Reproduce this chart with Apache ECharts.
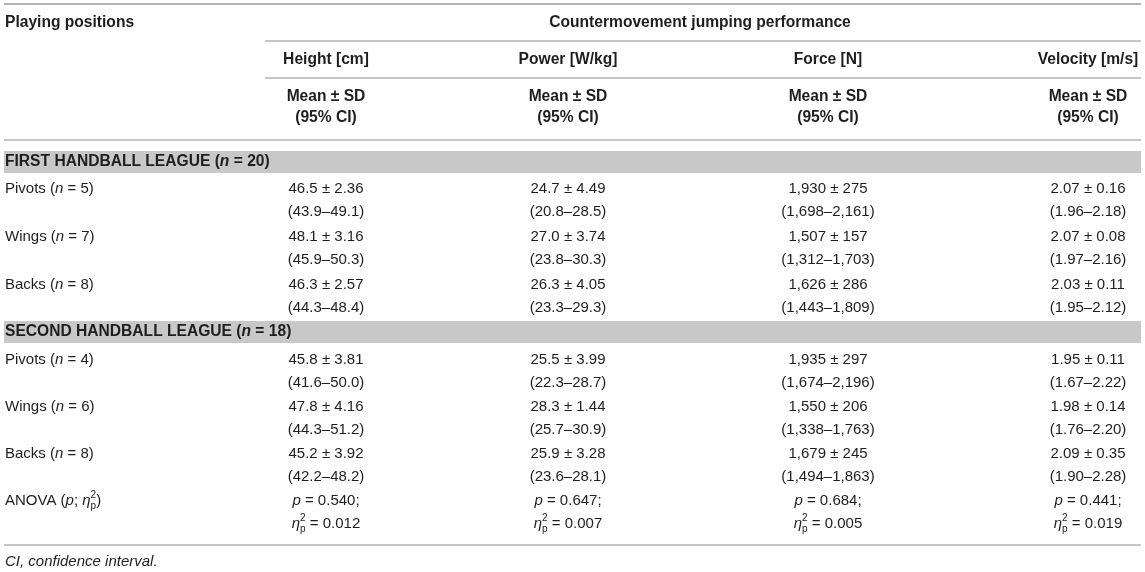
<!DOCTYPE html>
<html>
<head>
<meta charset="utf-8">
<script src="https://cdn.jsdelivr.net/npm/echarts@6/dist/echarts.min.js"></script>
<style>
  html, body { margin: 0; padding: 0; background: #fff; }
  #main { width: 1145px; height: 572px; }
</style>
</head>
<body>
<div id="main"></div>
<script>
var positions = ['Pivots', 'Wings', 'Backs'];
var leagues = ['FIRST HANDBALL LEAGUE', 'SECOND HANDBALL LEAGUE'];
var leagueN = [20, 18];
var groupN = [5, 7, 8, 4, 6, 8];
var measures = ['Height [cm]', 'Power [W/kg]', 'Force [N]', 'Velocity [m/s]'];

var heightMean = [46.5, 48.1, 46.3, 45.8, 47.8, 45.2];
var heightSD = [2.36, 3.16, 2.57, 3.81, 4.16, 3.92];
var heightCI = [[43.9, 49.1], [45.9, 50.3], [44.3, 48.4], [41.6, 50.0], [44.3, 51.2], [42.2, 48.2]];

var powerMean = [24.7, 27.0, 26.3, 25.5, 28.3, 25.9];
var powerSD = [4.49, 3.74, 4.05, 3.99, 1.44, 3.28];
var powerCI = [[20.8, 28.5], [23.8, 30.3], [23.3, 29.3], [22.3, 28.7], [25.7, 30.9], [23.6, 28.1]];

var forceMean = [1930, 1507, 1626, 1935, 1550, 1679];
var forceSD = [275, 157, 286, 297, 206, 245];
var forceCI = [[1698, 2161], [1312, 1703], [1443, 1809], [1674, 2196], [1338, 1763], [1494, 1863]];

var velocityMean = [2.07, 2.07, 2.03, 1.95, 1.98, 2.09];
var velocitySD = [0.16, 0.08, 0.11, 0.11, 0.14, 0.35];
var velocityCI = [[1.96, 2.18], [1.97, 2.16], [1.95, 2.12], [1.67, 2.22], [1.76, 2.20], [1.90, 2.28]];

var anovaP = [0.540, 0.647, 0.684, 0.441];
var anovaEta = [0.012, 0.007, 0.005, 0.019];

// decimals per measure: [mean, sd, ci]
var decimals = [[1, 2, 1], [1, 2, 1], [0, 0, 0], [2, 2, 2]];

// ---- layout ----
var FAMILY = '"Liberation Sans", Arial, Helvetica, sans-serif';
var SIZE = 15;
var BOLD_SIZE = 15.6;
var TEXT = '#1e1e1e';
var RULE = '#b3b3b3';
var BAND = '#c8c8c8';
var W = 1145, H = 572;
var LEFT = 5, TABLE_L = 4, TABLE_R = 1141, SUB_L = 265;
var colX = [326, 568, 828, 1088];
var groupX = 700;
var headY = [23, 60, 97];
var HEAD_SUB = 21;
var bandY = [162, 332];
var BAND_H = 22;
var rowY = [189, 237, 285, 360, 407, 454];
var anovaY = 501;
var DATA_SUB = 23;
var noteY = 562;

var ctx = document.createElement('canvas').getContext('2d');
function fontOf(r, bold) {
  var size = r.size || (bold ? BOLD_SIZE : SIZE);
  return (r.it ? 'italic ' : '') + (bold ? 'bold ' : '') + size + 'px ' + FAMILY;
}
function measure(t, f) { ctx.font = f; return ctx.measureText(t).width; }

function fmt(v, d) {
  var s = v.toFixed(d);
  var parts = s.split('.');
  parts[0] = parts[0].replace(/\B(?=(\d{3})+(?!\d))/g, ',');
  return parts.join('.');
}
function plain(t) { return [{ t: t }]; }

// build table cells
var cells = [];
function addCell(x, y, lines, align, bold) {
  cells.push({ x: x, y: y, lines: lines, align: align, bold: !!bold });
}

addCell(LEFT, headY[0], [plain('Playing positions')], 'left', true);
addCell(groupX, headY[0], [plain('Countermovement jumping performance')], 'center', true);
measures.forEach(function (m, j) {
  addCell(colX[j], headY[1], [plain(m)], 'center', true);
  addCell(colX[j], headY[2], [plain('Mean \u00b1 SD'), plain('(95% CI)')], 'center', true);
});

var means = [heightMean, powerMean, forceMean, velocityMean];
var sds = [heightSD, powerSD, forceSD, velocitySD];
var cis = [heightCI, powerCI, forceCI, velocityCI];

leagues.forEach(function (lg, k) {
  addCell(LEFT, bandY[k], [[{ t: lg + ' (' }, { t: 'n', it: true }, { t: ' = ' + leagueN[k] + ')' }]], 'left', true);
  positions.forEach(function (pos, i) {
    var r = k * 3 + i;
    addCell(LEFT, rowY[r], [[{ t: pos + ' (' }, { t: 'n', it: true }, { t: ' = ' + groupN[r] + ')' }]], 'left');
    measures.forEach(function (m, j) {
      var d = decimals[j];
      addCell(colX[j], rowY[r], [
        plain(fmt(means[j][r], d[0]) + ' \u00b1 ' + fmt(sds[j][r], d[1])),
        plain('(' + fmt(cis[j][r][0], d[2]) + '\u2013' + fmt(cis[j][r][1], d[2]) + ')')
      ], 'center');
    });
  });
});

var etaRuns = [{ t: '\u03b7', it: true }, { t: '2', size: 10, dy: -6, stack: true }, { t: 'p', size: 10, dy: 5 }];
addCell(LEFT, anovaY, [[{ t: 'ANOVA (' }, { t: 'p', it: true }, { t: '; ' }].concat(etaRuns, [{ t: ')' }])], 'left');
measures.forEach(function (m, j) {
  addCell(colX[j], anovaY, [
    [{ t: 'p', it: true }, { t: ' = ' + anovaP[j].toFixed(3) + ';' }],
    etaRuns.concat([{ t: ' = ' + anovaEta[j].toFixed(3) }])
  ], 'center');
});
addCell(LEFT, noteY, [[{ t: 'CI, confidence interval.', it: true }]], 'left');

// rules and bands
var rules = [
  { x1: TABLE_L, x2: TABLE_R, y: 4, w: 2 },
  { x1: SUB_L, x2: TABLE_R, y: 41, w: 1.5 },
  { x1: SUB_L, x2: TABLE_R, y: 78, w: 1.5 },
  { x1: TABLE_L, x2: TABLE_R, y: 140, w: 1.5 },
  { x1: TABLE_L, x2: TABLE_R, y: 545, w: 1.5 }
];
bandY.forEach(function (y) {
  rules.push({ x1: TABLE_L, x2: TABLE_R, y: y, band: true });
});

function lineWidth(runs, bold) {
  var w = 0, stackW = 0;
  runs.forEach(function (r) {
    var tw = measure(r.t, fontOf(r, bold));
    if (r.stack) { stackW = tw; } else { w += Math.max(tw, stackW); stackW = 0; }
  });
  return w;
}

function renderCell(params, api) {
  var cell = cells[params.dataIndex];
  var p = api.coord([api.value(0), api.value(1)]);
  var sub = cell.y < rules[3].y ? HEAD_SUB : DATA_SUB;
  var children = [];
  cell.lines.forEach(function (runs, li) {
    var y = p[1] + li * sub;
    var x = cell.align === 'center' ? p[0] - lineWidth(runs, cell.bold) / 2 : p[0];
    var stackW = 0;
    runs.forEach(function (r) {
      var f = fontOf(r, cell.bold);
      var tw = measure(r.t, f);
      children.push({
        type: 'text', x: x, y: y + (r.dy || 0), silent: true,
        style: { text: r.t, font: f, fill: TEXT, align: 'left', verticalAlign: 'middle' }
      });
      if (r.stack) { stackW = tw; } else { x += Math.max(tw, stackW); stackW = 0; }
    });
  });
  return { type: 'group', children: children };
}

function renderRule(params, api) {
  var a = api.coord([api.value(0), api.value(2)]);
  var b = api.coord([api.value(1), api.value(2)]);
  var r = rules[params.dataIndex];
  if (r.band) {
    return {
      type: 'rect', silent: true,
      shape: { x: a[0], y: a[1] - BAND_H / 2, width: b[0] - a[0], height: BAND_H },
      style: { fill: BAND }
    };
  }
  return {
    type: 'line', silent: true,
    shape: { x1: a[0], y1: a[1], x2: b[0], y2: b[1] },
    style: { stroke: RULE, lineWidth: r.w }
  };
}

var chart = echarts.init(document.getElementById('main'), null, { renderer: 'canvas' });
chart.setOption({
  animation: false,
  backgroundColor: '#fff',
  grid: { left: 0, right: 0, top: 0, bottom: 0 },
  xAxis: { type: 'value', min: 0, max: W, show: false },
  yAxis: { type: 'value', min: 0, max: H, inverse: true, show: false },
  series: [
    {
      type: 'custom', name: 'rules', clip: false, z: 1,
      renderItem: renderRule,
      data: rules.map(function (r) { return [r.x1, r.x2, r.y]; })
    },
    {
      type: 'custom', name: 'cells', clip: false, z: 2,
      renderItem: renderCell,
      data: cells.map(function (c) { return [c.x, c.y]; })
    }
  ]
});
</script>
</body>
</html>
